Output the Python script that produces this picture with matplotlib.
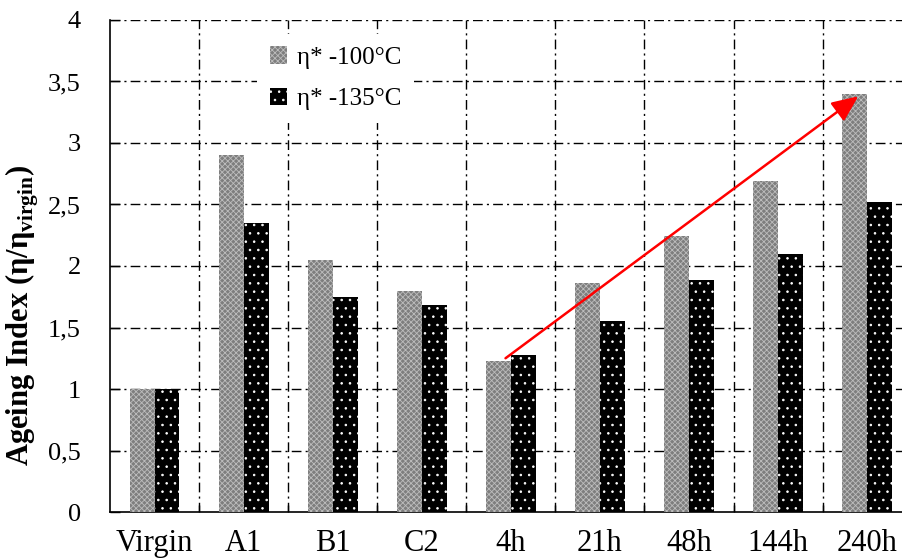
import matplotlib
matplotlib.use('Agg')
import matplotlib.pyplot as plt
import numpy as np

plt.rcParams['font.family'] = ['Liberation Serif', 'DejaVu Serif']
plt.rcParams['mathtext.fontset'] = 'custom'
plt.rcParams['mathtext.rm'] = 'Liberation Serif'
plt.rcParams['mathtext.bf'] = 'Liberation Serif:bold'
plt.rcParams['hatch.linewidth'] = 0.6

# ageing index per sample, complex viscosity at two temperatures
categories = ['Virgin', 'A1', 'B1', 'C2', '4h', '21h', '48h', '144h', '240h']
eta_100 = [1.0, 2.9, 2.05, 1.80, 1.23, 1.86, 2.24, 2.69, 3.40]
eta_135 = [1.0, 2.35, 1.75, 1.68, 1.28, 1.55, 1.89, 2.10, 2.52]
y_ticks = [0, 0.5, 1, 1.5, 2, 2.5, 3, 3.5, 4]
y_tick_labels = ['0', '0,5', '1', '1,5', '2', '2,5', '3', '3,5', '4']

# trend arrow over the ageing-time samples (4h -> 240h)
trend_start = (3.94, 1.25)
trend_end = (7.90, 3.38)

fig = plt.figure(figsize=(9.03, 5.6), dpi=100)
ax = fig.add_axes([0.1218, 0.0857, 0.879, 0.8786])

x = np.arange(len(categories))
w = 0.28
ax.bar(x - w / 2, eta_100, w, color='#7e7e7e', edgecolor='#bdbdbd',
       hatch='xxxxxx', linewidth=0, label=r'η* -100°C', zorder=3)
ax.bar(x + w / 2, eta_135, w, color='black', edgecolor='white',
       hatch='..', linewidth=0, label=r'η* -135°C', zorder=3)

ax.annotate('', xy=trend_end, xytext=trend_start,
            arrowprops=dict(arrowstyle='-|>,head_length=0.8,head_width=0.35',
                            color='#ff0000', lw=1.8,
                            mutation_scale=20, shrinkA=0, shrinkB=0),
            zorder=5)

ax.set_ylim(0, 4)
ax.set_xlim(-0.5, 8.41)
ax.set_yticks(y_ticks)
ax.set_yticklabels(y_tick_labels, fontsize=19)
ax.set_xticks(x)
ax.set_xticklabels(categories, fontsize=22)
ax.set_xticks(x[:-1] + 0.5, minor=True)
ax.tick_params(axis='y', direction='in', length=7, width=1, pad=21)
ax.tick_params(axis='x', which='major', length=0, pad=12)
ax.tick_params(axis='x', which='minor', direction='in', length=5, width=1)

# dash-dot grid: horizontal at ticks, vertical between categories
for yv in y_ticks[1:]:
    ax.axhline(yv, color='black', lw=1.0, ls=(0, (7, 3, 1.5, 3)), zorder=1)
for xv in x[:-1] + 0.5:
    ax.axvline(xv, color='black', lw=1.0, ls=(0, (7, 3, 1.5, 3)), zorder=1)

for side in ['top', 'right']:
    ax.spines[side].set_visible(False)
ax.spines['left'].set_linewidth(1.2)
ax.spines['bottom'].set_linewidth(1.2)

ax.set_ylabel(r'Ageing Index (η/η$_\mathbf{virgin}$)', fontsize=22,
              fontweight='bold')
ax.yaxis.set_label_coords(-0.087, 0.40)

leg = ax.legend(loc='upper left', bbox_to_anchor=(0.17, 0.997),
                fontsize=18, frameon=True, fancybox=False, edgecolor='none',
                handlelength=0.7, handleheight=0.7, handletextpad=0.4,
                labelspacing=0.75, borderpad=0.5)
leg.get_frame().set_facecolor('white')
leg.get_frame().set_alpha(1)
leg.set_zorder(6)

fig.savefig('out.png', dpi=100)
